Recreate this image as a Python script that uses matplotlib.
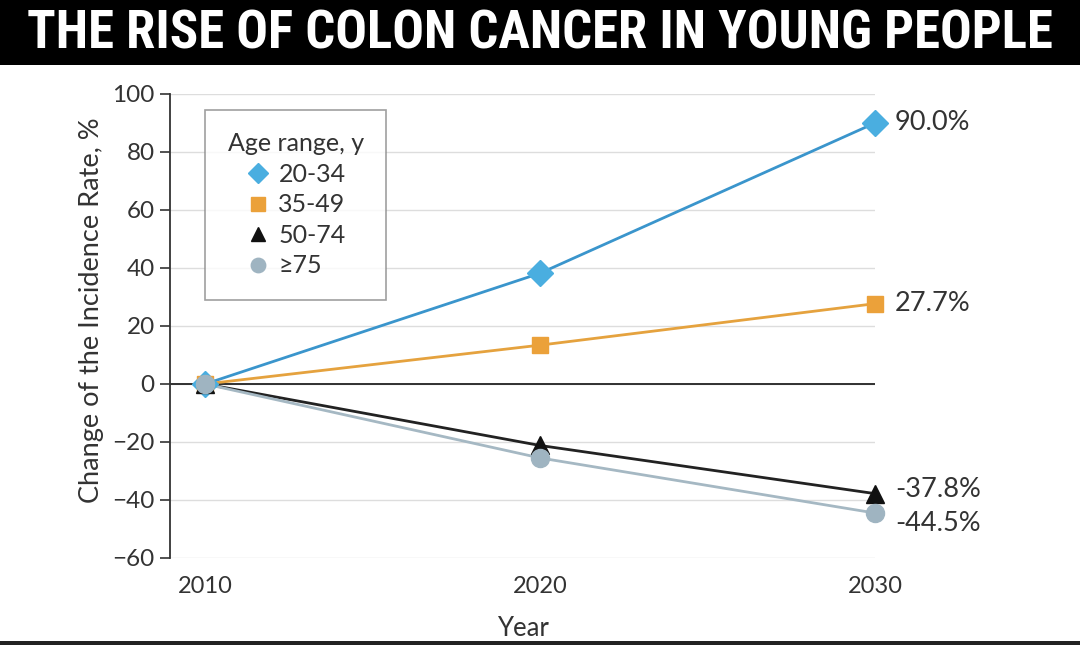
import matplotlib
matplotlib.use('Agg')
import matplotlib.pyplot as plt
from matplotlib import font_manager
from matplotlib.patches import Rectangle

# data
years = [2010, 2020, 2030]
age_groups = ['20-34', '35-49', '50-74', '≥75']
rise_20_34 = [0, 38.2, 90.0]
rise_35_49 = [0, 13.4, 27.7]
rise_50_74 = [0, -21.2, -37.8]
rise_75_up = [0, -25.5, -44.5]
end_labels = ['90.0%', '27.7%', '-37.8%', '-44.5%']
y_ticks = [-60, -40, -20, 0, 20, 40, 60, 80, 100]

plt.rcParams['font.family'] = ['Lato', 'DejaVu Sans']
text_col = '#333333'

# pick a narrow bold face for the banner if one is there
installed = {f.name for f in font_manager.fontManager.ttflist}
title_font = 'Liberation Serif'
for cand in ['Roboto Condensed', 'Liberation Sans Narrow', 'DejaVu Serif Condensed',
             'DejaVu Sans Condensed', 'Open Sans Condensed']:
    if cand in installed:
        title_font = cand
        break

fig = plt.figure(figsize=(10.8, 6.45), dpi=100)
fig.patch.set_facecolor('white')

# black title banner
fig.patches.append(Rectangle((0, 1 - 65 / 645), 1, 65 / 645, transform=fig.transFigure,
                             facecolor='black', edgecolor='none', zorder=0))
fig.patches.append(Rectangle((0, 0), 1, 4 / 645, transform=fig.transFigure,
                             facecolor='#222222', edgecolor='none', zorder=0))
title = fig.text(0.5, 1 - 34 / 645, 'THE RISE OF COLON CANCER IN YOUNG PEOPLE',
                 color='white', ha='center', va='center', fontsize=40,
                 family=title_font, weight='bold')
fig.canvas.draw()
w = title.get_window_extent().width
title.set_fontsize(min(40 * 1025 / w, 58))

ax = fig.add_axes([170 / 1080, 1 - 558 / 645, 705 / 1080, 464 / 645])

series = [
    (rise_20_34, 'D', '#4aaee0', '#3a95cc', 13),
    (rise_35_49, 's', '#eba13a', '#e5a23e', 12),
    (rise_50_74, '^', '#111111', '#222222', 13),
    (rise_75_up, 'o', '#9fb4c1', '#a5b8c3', 13),
]
for (vals, mk, mcol, lcol, ms), name in zip(series, age_groups):
    ax.plot(years, vals, color=lcol, lw=2, zorder=3, clip_on=False)
    ax.plot(years, vals, ls='none', marker=mk, ms=ms, color=mcol, mec=mcol,
            zorder=4, clip_on=False, label=name)

for vals, lab in zip([rise_20_34, rise_35_49, rise_50_74, rise_75_up], end_labels):
    dy = 0
    if lab == '-37.8%':
        dy = 1.5
    if lab == '-44.5%':
        dy = -3.5
    ax.text(years[-1] + 0.6, vals[-1] + dy, lab, fontsize=19.5, color=text_col,
            va='center', ha='left')

ax.set_xlim(2008.95, 2030)
ax.set_ylim(-60, 100)
ax.set_yticks(y_ticks)
ax.set_xticks(years)
ax.tick_params(axis='y', labelsize=17.5, colors=text_col, length=7, width=1.2, pad=4)
ax.tick_params(axis='x', labelsize=17, colors=text_col, length=0, pad=13)
ax.grid(axis='y', color='#dddddd', lw=1)
ax.axhline(0, color='#222222', lw=1.3, zorder=2)
ax.set_axisbelow(True)
for s in ['top', 'right', 'bottom']:
    ax.spines[s].set_visible(False)
ax.spines['left'].set_color('#333333')
ax.spines['left'].set_linewidth(1.3)

ax.set_xlabel('Year', fontsize=18.5, color=text_col, labelpad=14)
ax.set_ylabel('Change of the Incidence Rate, %', fontsize=19.5, color=text_col)
ax.yaxis.set_label_coords(-0.094, 0.534)

leg = ax.legend(title='Age range, y', loc='upper left', bbox_to_anchor=(0.05, 0.966),
                fontsize=18, title_fontsize=18, frameon=True, fancybox=False,
                borderpad=0.9, labelspacing=0.3, handletextpad=0.3,
                handlelength=1.0, borderaxespad=0, markerscale=0.8)
leg.get_frame().set_edgecolor('#888888')
leg.get_frame().set_linewidth(1.2)
for t in leg.get_texts():
    t.set_color(text_col)
leg.get_title().set_color(text_col)

fig.savefig('out.png', dpi=100)
